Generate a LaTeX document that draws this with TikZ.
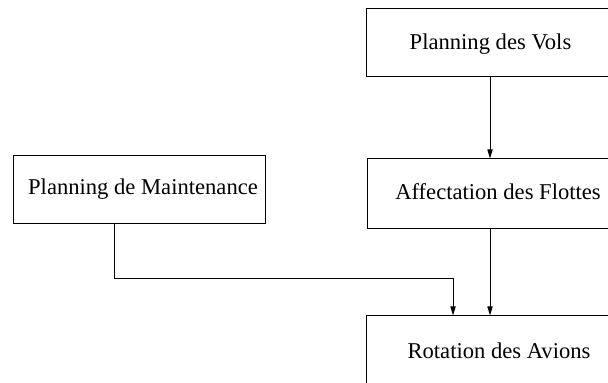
\documentclass[tikz,border=0pt]{standalone}
\usepackage{fontspec}
\setmainfont{Liberation Serif}
\usetikzlibrary{arrows.meta}
\begin{document}
\begin{tikzpicture}[x=0.5pt,y=-0.5pt,
  box/.style={draw, line width=0.5pt, rectangle, inner sep=0pt},
  lbl/.style={anchor=base, inner sep=0pt, font=\fontsize{11.3pt}{13pt}\selectfont},
  conn/.style={line width=0.5pt, -{Triangle[length=4.5pt,width=2.6pt]}}]
\useasboundingbox (0,0) rectangle (608,383);
\clip (0,0) rectangle (608,383);
\node[box, minimum width=124.5pt, minimum height=34pt] (vols) at (490.5,43) {};
\node[box, minimum width=131pt, minimum height=35pt] (flottes) at (498,194) {};
\node[box, minimum width=133pt, minimum height=35pt] (rot) at (499,351) {};
\node[box, minimum width=126pt, minimum height=34pt] (maint) at (139,190) {};
\node[lbl] (tvols) at (490.5,50) {Planning des Vols};
\node[lbl] (tflottes) at (498,200) {Affectation des Flottes};
\node[lbl] (trot) at (499,358) {Rotation des Avions};
\node[lbl] (tmaint) at (143,195) {Planning de Maintenance};
\coordinate (ax) at (490,0);
\coordinate (mx) at (114,0);
\coordinate (bend) at (453,279);
\draw[conn] (vols.south -| ax) -- (flottes.north -| ax);
\draw[conn] (flottes.south -| ax) -- (rot.north -| ax);
\draw[conn] (maint.south -| mx) |- (bend) -- (bend |- rot.north);
\end{tikzpicture}
\end{document}
